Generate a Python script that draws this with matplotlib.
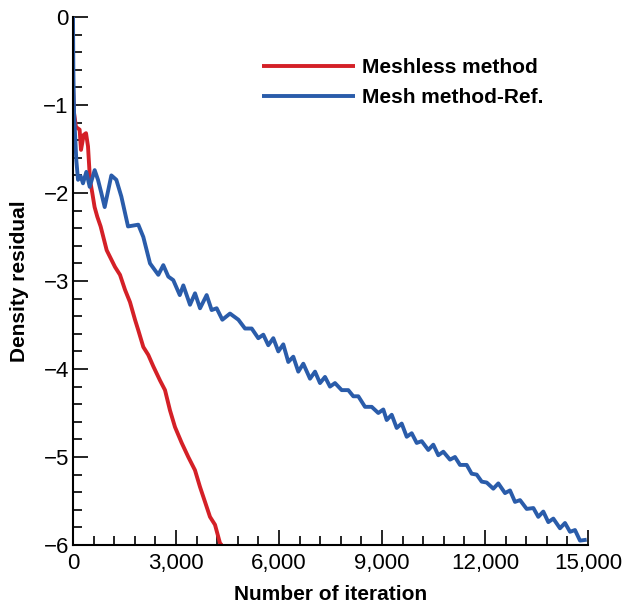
import matplotlib
matplotlib.use("Agg")
import matplotlib.pyplot as plt
from matplotlib.ticker import MultipleLocator, FuncFormatter

plt.rcParams['font.family'] = ['Liberation Sans', 'DejaVu Sans']

red_x = [0, 30, 87, 193, 233, 311, 379, 437, 495, 562, 629, 708, 805, 981, 1223, 1369,
         1515, 1660, 1806, 1902, 2048, 2193, 2339, 2534, 2680, 2825, 2971, 3166, 3358,
         3553, 3699, 3845, 3990, 4136, 4282, 4331]
red_y = [-0.79, -1.09, -1.25, -1.28, -1.51, -1.34, -1.32, -1.47, -1.85, -2.00, -2.16,
         -2.27, -2.38, -2.65, -2.84, -2.93, -3.10, -3.24, -3.44, -3.56, -3.75, -3.84,
         -3.97, -4.13, -4.24, -4.47, -4.66, -4.84, -5.00, -5.15, -5.34, -5.51, -5.68,
         -5.77, -5.98, -6.0]

blue_x = [0, 10, 30, 97, 146, 223, 291, 388, 486, 631, 728, 825, 923, 1117, 1262, 1408,
          1603, 1902, 2048, 2243, 2485, 2630, 2776, 2920, 3110, 3213, 3408, 3554,
          3700, 3893, 4038, 4184, 4350, 4573, 4817, 5010, 5205, 5397, 5543, 5688, 5834,
          5980, 6125, 6271, 6416, 6562, 6708, 6903, 7049, 7194, 7340, 7485, 7631, 7826,
          8018, 8164, 8310, 8505, 8700, 8892, 9038, 9137, 9283, 9428, 9574, 9720, 9865,
          10011, 10156, 10349, 10494, 10640, 10786, 10981, 11126, 11272, 11467, 11612,
          11758, 11904, 12049, 12242, 12388, 12583, 12728, 12874, 13020, 13214, 13409,
          13552, 13698, 13844, 13990, 14184, 14330, 14476, 14621, 14767, 14962]
blue_y = [0.0, -0.6, -1.09, -1.63, -1.85, -1.81, -1.89, -1.76, -1.93, -1.74, -1.85, -2.00,
          -2.16, -1.80, -1.85, -2.04, -2.38, -2.36, -2.50, -2.80, -2.93, -2.82, -2.95,
          -2.99, -3.16, -3.05, -3.27, -3.14, -3.31, -3.16, -3.33, -3.31, -3.44, -3.37,
          -3.44, -3.54, -3.54, -3.65, -3.61, -3.73, -3.65, -3.80, -3.72, -3.92, -3.86,
          -4.03, -3.94, -4.11, -4.03, -4.16, -4.09, -4.20, -4.16, -4.24, -4.24, -4.31,
          -4.31, -4.43, -4.43, -4.50, -4.46, -4.58, -4.52, -4.67, -4.62, -4.77, -4.73,
          -4.84, -4.82, -4.92, -4.86, -4.98, -4.94, -5.03, -5.00, -5.09, -5.09, -5.19,
          -5.20, -5.28, -5.29, -5.36, -5.30, -5.41, -5.38, -5.51, -5.49, -5.59, -5.58,
          -5.68, -5.62, -5.74, -5.70, -5.81, -5.75, -5.85, -5.83, -5.95, -5.94]

labels = ["Meshless method", "Mesh method-Ref."]
colors = ["#d42027", "#2a5caa"]

fig = plt.figure(figsize=(6.22, 6.07), dpi=100)
ax = fig.add_axes([73/622, 1-545/607, 515/622, 528/607])

ax.plot(red_x, red_y, color=colors[0], lw=2.8, label=labels[0],
        solid_joinstyle='round', solid_capstyle='butt')
ax.plot(blue_x, blue_y, color=colors[1], lw=2.8, label=labels[1],
        solid_joinstyle='round', solid_capstyle='butt')

ax.set_xlim(0, 15000)
ax.set_ylim(-6, 0)
ax.spines['top'].set_visible(False)
ax.spines['right'].set_visible(False)
for s in ['left', 'bottom']:
    ax.spines[s].set_linewidth(1.5)
ax.xaxis.set_major_locator(MultipleLocator(3000))
ax.xaxis.set_minor_locator(MultipleLocator(600))
ax.yaxis.set_major_locator(MultipleLocator(1))
ax.yaxis.set_minor_locator(MultipleLocator(0.2))
ax.xaxis.set_major_formatter(FuncFormatter(lambda v, p: f"{int(v):,}"))
ax.yaxis.set_major_formatter(FuncFormatter(lambda v, p: f"{int(round(v))}".replace('-', '\u2212')))
ax.tick_params(which='major', direction='in', length=11, width=1.2, labelsize=16)
ax.tick_params(which='minor', direction='in', length=6.5, width=1.2)
ax.tick_params(axis='x', which='major', pad=5.5)
ax.tick_params(axis='y', which='major', pad=3)

ax.set_xlabel("Number of iteration", fontsize=15, fontweight='bold', labelpad=8)
ax.set_ylabel("Density residual", fontsize=15, fontweight='bold', labelpad=10)

ax.legend(loc='upper left', bbox_to_anchor=((262-73)/515, (545-58)/528), frameon=False,
          borderpad=0, borderaxespad=0,
          handlelength=4.45, handletextpad=0.35, labelspacing=0.55,
          prop={'weight': 'bold', 'size': 15})

fig.savefig("out.png", dpi=100)
